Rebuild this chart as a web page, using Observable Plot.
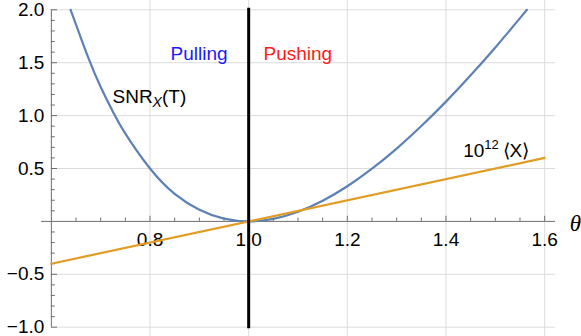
<!DOCTYPE html>
<html>
<head>
<meta charset="utf-8">
<script src="https://cdn.jsdelivr.net/npm/d3@7"></script>
<script src="https://cdn.jsdelivr.net/npm/@observablehq/plot@0.6"></script>
<style>
  html, body { margin: 0; padding: 0; background: white; }
  #chart svg { display: block; }
</style>
</head>
<body>
<div id="chart"></div>
<script>
// ---- data ----
const snrTheta = [0.639, 0.65, 0.675, 0.7, 0.725, 0.75, 0.8, 0.85, 0.9, 0.95, 1.0, 1.05, 1.1, 1.15, 1.2, 1.25, 1.3, 1.35, 1.4, 1.45, 1.5, 1.55, 1.564];
const snrValue = [2.00, 1.86, 1.545, 1.27, 1.034, 0.83, 0.50, 0.26, 0.11, 0.026, 0.0, 0.024, 0.091, 0.195, 0.332, 0.498, 0.688, 0.901, 1.132, 1.381, 1.644, 1.921, 2.00];
const meanTheta = [0.6, 1.6];
const meanValue = [-0.4, 0.6];

const xMajorTicks = [0.8, 1.0, 1.2, 1.4, 1.6];
const xTickLabels = ["0.8", "1.0", "1.2", "1.4", "1.6"];
const xMinorTicks = [0.65, 0.7, 0.75, 0.85, 0.9, 0.95, 1.05, 1.1, 1.15, 1.25, 1.3, 1.35, 1.45, 1.5, 1.55];
const yMajorTicks = [-1.0, -0.5, 0.5, 1.0, 1.5, 2.0];
const yTickLabels = ["\u22121.0", "\u22120.5", "0.5", "1.0", "1.5", "2.0"];
const yMinorTicks = [-0.9, -0.8, -0.7, -0.6, -0.4, -0.3, -0.2, -0.1, 0.1, 0.2, 0.3, 0.4, 0.6, 0.7, 0.8, 0.9, 1.1, 1.2, 1.3, 1.4, 1.6, 1.7, 1.8, 1.9];
const regionLabels = ["Pulling", "Pushing"];

// ---- tables built from the arrays ----
const snr = snrTheta.map((t, i) => ({theta: t, v: snrValue[i]}));
const mean = meanTheta.map((t, i) => ({theta: t, v: meanValue[i]}));

const X0 = 0.58, X1 = 1.622, Y0 = -1.088, Y1 = 2.088;
const gridColor = "#dcdcdc", axisColor = "#6e6e6e";
const font = "'Liberation Sans', Arial, sans-serif";

const svg = Plot.plot({
  width: 581, height: 336,
  marginTop: 0, marginBottom: 0, marginLeft: 41, marginRight: 26,
  x: {domain: [X0, X1], axis: null},
  y: {domain: [Y0, Y1], axis: null},
  style: {fontFamily: font, fontSize: "19px", background: "white", color: "black"},
  marks: [
    // grid
    Plot.ruleX(xMajorTicks, {x: d => d, stroke: gridColor, strokeWidth: 1}),
    Plot.ruleY(yMajorTicks, {y: d => d, x1: 0.6, x2: X1, stroke: gridColor, strokeWidth: 1}),
    // axes
    Plot.ruleY([0], {x1: X0, x2: X1, stroke: axisColor, strokeWidth: 1}),
    Plot.ruleX([0.6], {y1: -1.0, y2: 2.0, stroke: axisColor, strokeWidth: 1}),
    // ticks
    Plot.ruleX(xMajorTicks, {x: d => d, y1: 0, y2: 0.048, stroke: axisColor}),
    Plot.ruleX(xMinorTicks, {x: d => d, y1: 0, y2: 0.032, stroke: axisColor}),
    Plot.ruleY(yMajorTicks, {y: d => d, x1: 0.6, x2: 0.6125, stroke: axisColor}),
    Plot.ruleY(yMinorTicks, {y: d => d, x1: 0.6, x2: 0.608, stroke: axisColor}),
    // tick labels
    Plot.text(xMajorTicks, {x: d => d, y: 0, dy: 19, text: (d, i) => xTickLabels[i], fontSize: 19, fill: "black"}),
    Plot.text(yMajorTicks, {x: 0.6, y: d => d, dx: -7, text: (d, i) => yTickLabels[i], textAnchor: "end", fontSize: 19, fill: "black"}),
    Plot.text(["\u03b8"], {x: X1, y: 0, dx: 20, dy: 2, text: d => d, fontSize: 23, fontStyle: "italic", fontFamily: "'Liberation Serif', 'Times New Roman', serif", fill: "black"}),
    // region labels
    Plot.text([regionLabels[0]], {x: 0.8415, y: 1.579, text: d => d, textAnchor: "start", fill: "#1a1aff", fontSize: 19}),
    Plot.text([regionLabels[1]], {x: 1.030, y: 1.579, text: d => d, textAnchor: "start", fill: "#ff1a1a", fontSize: 19}),
    // curve labels (sub/superscripts added afterwards)
    Plot.text(["SNR"], {x: 0.7239, y: 1.175, text: d => d, textAnchor: "start", fill: "black", fontSize: 19}),
    Plot.text(["10"], {x: 1.4349, y: 0.671, text: d => d, textAnchor: "start", fill: "black", fontSize: 19}),
    // curves
    Plot.line(snr, {x: "theta", y: "v", stroke: "#5e81b5", strokeWidth: 2.2, curve: "natural"}),
    Plot.line(mean, {x: "theta", y: "v", stroke: "#e19c24", strokeWidth: 2.2}),
    // boundary theta = 1
    Plot.ruleX([1.0], {y1: -1.0, y2: 2.0, stroke: "black", strokeWidth: 3, strokeLinecap: "square"})
  ]
});

// rich-text parts of the curve labels
d3.select(svg).selectAll("text").each(function() {
  const t = d3.select(this);
  if (this.textContent === "SNR") {
    t.append("tspan").attr("font-style", "italic").attr("font-size", 14).attr("dy", 4).text("X");
    t.append("tspan").attr("font-size", 19).attr("dy", -4).text("(T)");
  } else if (this.textContent === "10") {
    t.append("tspan").attr("font-size", 13).attr("dy", -8).text("12");
    t.append("tspan").attr("font-size", 19).attr("dy", 8).text("\u2009\u27e8X\u27e9");
  }
});

document.getElementById("chart").appendChild(svg);
</script>
</body>
</html>
